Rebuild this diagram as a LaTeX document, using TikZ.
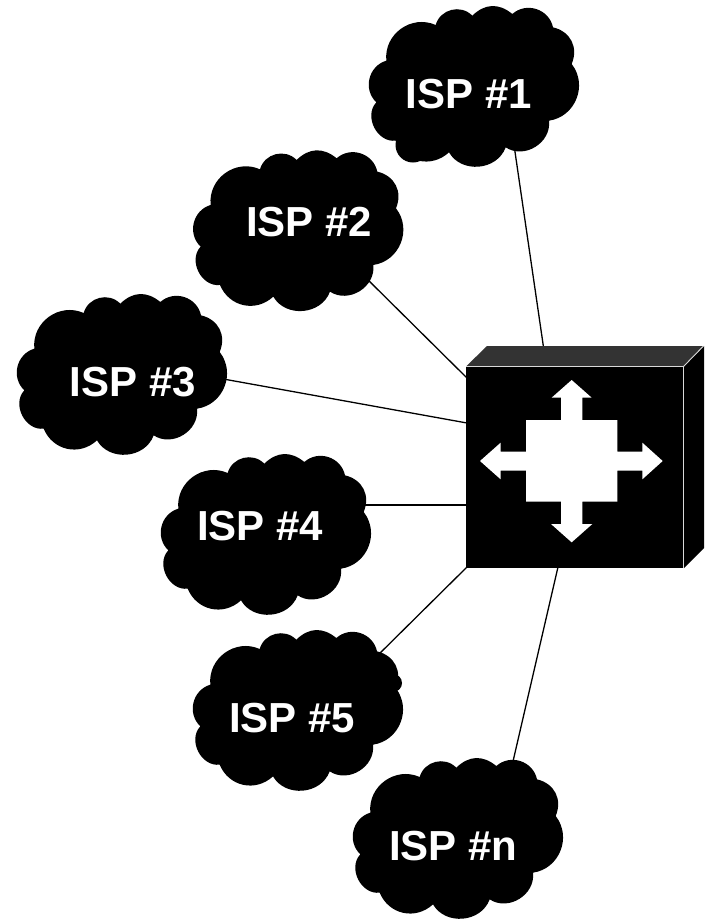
\documentclass[tikz,border=0pt]{standalone}
\usepackage{fontspec}
\setmainfont{Liberation Sans}
\usetikzlibrary{backgrounds}
\tikzset{
  x=1pt,y=-1pt,
  ispcloud/.pic={
    \begin{scope}[scale=0.33333,shift={(-37,-37)},looseness=1.12]
      \fill[black] (92,195) to[bend left=60] (240,88) to[bend left=60] (350,60)
        to[bend left=42] (470,55) to[bend left=60] (592,95) to[bend left=50] (648,205)
        to[bend left=60] (580,375) to[bend left=65] (450,455) to[bend left=65] (280,470)
        to[bend left=55] (120,435) to[bend left=70] (62,320) to[bend left=60] (92,195) -- cycle;
    \end{scope}
  },
  isplabel/.style={anchor=base west,inner sep=0pt,text=white,font=\fontsize{42}{42}\selectfont\bfseries},
  link/.style={draw=black,line width=1.3pt},
  switchfront/.style={fill=black,inner sep=0pt,minimum width=216.7pt,minimum height=201pt},
  facetedge/.style={draw=white!85!black,line width=0.9pt},
}
\begin{document}
\begin{tikzpicture}
\useasboundingbox (0,0) rectangle (710,919);
% clouds
\pic at (368,8) {ispcloud};
\fill[black] (413,145) circle[radius=17.5];
\pic at (192.3,152.3) {ispcloud};
\pic at (16,296) {ispcloud};
\pic at (160,456) {ispcloud};
\pic at (192,632) {ispcloud};
\fill[black] (393,683) circle[radius=9];
\pic at (352,760) {ispcloud};
% labels
\node[isplabel] (isp1) at (405.5,108) {ISP \#1};
\node[isplabel] (isp2) at (246,236) {ISP \#2};
\node[isplabel] (isp3) at (69.5,396) {ISP \#3};
\node[isplabel] (isp4) at (197,540) {ISP \#4};
\node[isplabel] (isp5) at (229,732) {ISP \#5};
\node[isplabel] (ispn) at (389,860) {ISP \#n};
% switch
\fill[fill=black!80] (466,366.5) -- (487,346) -- (704,346) -- (684,366.5) -- cycle;
\fill[black] (684,366.5) -- (704,346) -- (704,548) -- (684,568) -- cycle;
\node[switchfront] (front) at (574.6,467.2) {};
\draw[facetedge] (466,366.5) -- (683.5,366.5) -- (683.5,568);
\draw[facetedge] (683.5,366.5) -- (703.5,346);
\begin{scope}[shift={(450,330)},scale=0.33333]
  \fill[white] (365,150) -- (425,203) -- (397,203) -- (397,270) -- (502,270)
    -- (502,365) -- (577,365) -- (577,338) -- (638,393) -- (577,448) -- (577,422) -- (502,422)
    -- (502,515) -- (397,515) -- (397,582) -- (427,582) -- (365,637) -- (303,582) -- (333,582) -- (333,515)
    -- (228,515) -- (228,422) -- (152,422) -- (152,448) -- (90,393) -- (152,338) -- (152,365) -- (228,365)
    -- (228,270) -- (333,270) -- (333,203) -- (305,203) -- cycle;
\end{scope}
% connector ends
\coordinate (a1) at (514,145);
\coordinate (b1) at (546.4,367);
\coordinate (a2) at (360,272);
\coordinate (b2) at (467,378);
\coordinate (a3) at (215,377.5);
\coordinate (b3) at (467,423);
\coordinate (a4) at (355,505);
\coordinate (b4) at (467,505);
\coordinate (a5) at (370,663);
\coordinate (b5) at (467,567);
\coordinate (a6) at (511,770);
\coordinate (b6) at (558,567);
\begin{scope}[on background layer]
  \draw[link] (a1) -- (b1);
  \draw[link] (a2) -- (b2);
  \draw[link] (a3) -- (b3);
  \draw[link] (a4) -- (b4);
  \draw[link] (a5) -- (b5);
  \draw[link] (a6) -- (b6);
\end{scope}
\end{tikzpicture}
\end{document}
